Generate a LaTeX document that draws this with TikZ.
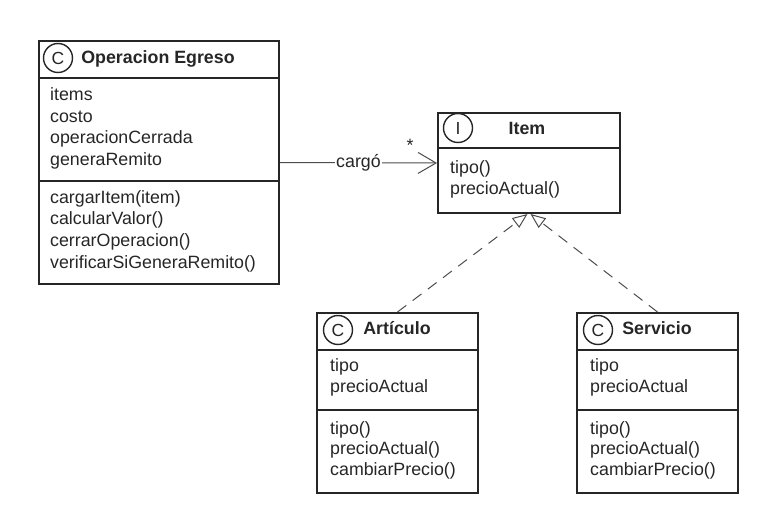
\documentclass[tikz,border=0pt]{standalone}
\usepackage{fontspec}
\setmainfont{Liberation Sans}
\usetikzlibrary{arrows.meta}
\begin{document}
\begin{tikzpicture}[x=1pt,y=-1pt,
  box/.style={draw=black!85, line width=2pt, inner sep=0pt, anchor=north west},
  sep/.style={draw=black!85, line width=2pt},
  circ/.style={draw=black!85, line width=1.4pt, circle, minimum size=29pt, inner sep=0pt, text=black!85, font=\fontsize{17.5}{17}\selectfont},
  ttl/.style={font=\fontsize{17.8}{20}\selectfont\bfseries, anchor=base, text=black!85, inner sep=0pt},
  mem/.style={font=\fontsize{17.8}{20}\selectfont, anchor=base west, text=black!85, inner sep=0pt},
  conn/.style={draw=black!70, line width=1pt},
  real/.style={conn, dash pattern=on 11pt off 8pt, -{Triangle[open, length=15pt, width=12pt]}},
]
\useasboundingbox (0,0) rectangle (777,532);

% Operacion Egreso
\node[box, minimum width=240pt, minimum height=243pt] (opeg) at (38,40) {};
\draw[sep] ([yshift=-38pt]opeg.north west) -- ([yshift=-38pt]opeg.north east);
\draw[sep] ([yshift=-141pt]opeg.north west) -- ([yshift=-141pt]opeg.north east);
\node[circ] (opegc) at (58,58) {C};
\node[ttl] (opegt) at (158,63.3) {Operacion Egreso};
\foreach \t [count=\i] in {items,costo,operacionCerrada,generaRemito}
  \node[mem] (oa\i) at (50,{101+21.5*(\i-1)}) {\t};
\foreach \t [count=\i] in {cargarItem(item),calcularValor(),cerrarOperacion(),verificarSiGeneraRemito()}
  \node[mem] (om\i) at (50,{203.3+21.7*(\i-1)}) {\t};

% Item
\node[box, minimum width=182pt, minimum height=100pt] (item) at (437,112) {};
\draw[sep] ([yshift=-36.5pt]item.north west) -- ([yshift=-36.5pt]item.north east);
\node[circ] (itemc) at (458,128) {I};
\node[ttl] (itemt) at (527,134.3) {Item};
\node[mem] (im1) at (450,173.3) {tipo()};
\node[mem] (im2) at (450,194.3) {precioActual()};

% Articulo
\node[box, minimum width=161pt, minimum height=180pt] (art) at (316,312) {};
\draw[sep] ([yshift=-37.5pt]art.north west) -- ([yshift=-37.5pt]art.north east);
\draw[sep] ([yshift=-98pt]art.north west) -- ([yshift=-98pt]art.north east);
\node[circ] (artc) at (338,330) {C};
\node[ttl] (artt) at (397,334.3) {Artículo};
\node[mem] (aa1) at (330,371.7) {tipo};
\node[mem] (aa2) at (330,392.7) {precioActual};
\node[mem] (am1) at (330,434) {tipo()};
\node[mem] (am2) at (330,454.7) {precioActual()};
\node[mem] (am3) at (330,475.4) {cambiarPrecio()};

% Servicio
\node[box, minimum width=161pt, minimum height=180pt] (serv) at (576,312) {};
\draw[sep] ([yshift=-37.5pt]serv.north west) -- ([yshift=-37.5pt]serv.north east);
\draw[sep] ([yshift=-98pt]serv.north west) -- ([yshift=-98pt]serv.north east);
\node[circ] (servc) at (598,330) {C};
\node[ttl] (servt) at (657,334.3) {Servicio};
\node[mem] (sa1) at (590,371.7) {tipo};
\node[mem] (sa2) at (590,392.7) {precioActual};
\node[mem] (sm1) at (590,434) {tipo()};
\node[mem] (sm2) at (590,454.7) {precioActual()};
\node[mem] (sm3) at (590,475.4) {cambiarPrecio()};

% Association
\draw[conn, -{Straight Barb[length=18pt, width=21pt, line width=1pt]}] (opeg.east) -- node[fill=white, inner sep=1pt, font=\fontsize{17.8}{20}\selectfont, text=black!85] (lbl) {cargó} (item.west);
\node[mem, anchor=base] (star) at (410,152) {*};

% Realizations
\draw[real] (art.north) -- ([xshift=-1.5pt]item.south);
\draw[real] (serv.north) -- ([xshift=1.5pt]item.south);
\end{tikzpicture}
\end{document}
